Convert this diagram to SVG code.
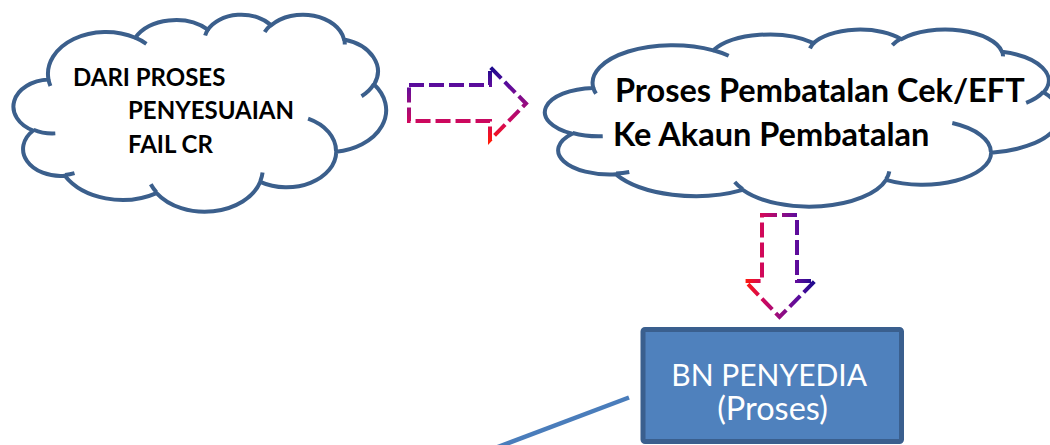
<svg xmlns="http://www.w3.org/2000/svg" xmlns:xlink="http://www.w3.org/1999/xlink" width="1050" height="445" viewBox="0 0 1050 445">
  <style>
    .cloud-outline { fill: #ffffff; stroke: #3b5f8c; stroke-width: 4; stroke-linejoin: round; }
    .cloud-hook { fill: none; stroke: #3b5f8c; stroke-width: 4; stroke-linecap: butt; }
    .cloud-text { font-family: Lato, "Liberation Sans", sans-serif; font-weight: bold; fill: #000000; }
    .box-text { font-family: Lato, "Liberation Sans", sans-serif; fill: #ffffff; text-anchor: middle; }
    .dash-arrow { fill: none; stroke-width: 4; stroke-dasharray: 15 5; stroke-linejoin: miter; }
  </style>
  <defs>
    <g id="cloud-shape">
      <path class="cloud-outline" vector-effect="non-scaling-stroke" d="M3900 14370 A6753 9190 0 0 1 14005 5202 A5333 7267 0 0 1 22456 3433 A4365 5945 0 0 1 29834 2481 A4857 6595 0 0 1 38319 5576 A5333 7273 0 0 1 41820 15460 A6775 9220 0 0 1 37405 30201 A5785 7867 0 0 1 28558 36812 A6752 9215 0 0 1 16482 39265 A7720 10543 0 0 1 5807 35471 A4360 5918 0 0 1 2116 25549 A4345 5945 0 0 1 3900 14370 Z"/>
      <path class="cloud-hook" vector-effect="non-scaling-stroke" d="M4693 26177 A4345 5945 0 0 1 2160 25380 M6928 34899 A4360 5918 0 0 1 5820 35280 M16478 39090 A6752 9215 0 0 1 15810 37349 M28827 34751 A6752 9215 0 0 1 28561 36659 M34129 22954 A5785 7867 0 0 1 37381 30090 M41798 15354 A5333 7273 0 0 1 40350 18030 M38324 5426 A4857 6595 0 0 1 38400 6690 M29078 3952 A4857 6595 0 0 1 29820 2340 M22141 4720 A4365 5945 0 0 1 22500 3331 M14000 5192 A6753 9190 0 0 1 15299 6538 M4127 15789 A6753 9190 0 0 1 3900 14371"/>
    </g>
    <linearGradient id="grad-right" gradientUnits="userSpaceOnUse" x1="0" y1="67" x2="0" y2="141">
      <stop offset="0" stop-color="#1a0a8c"/>
      <stop offset="0.25" stop-color="#5c0c9c"/>
      <stop offset="0.5" stop-color="#960c80"/>
      <stop offset="0.75" stop-color="#d0085c"/>
      <stop offset="1" stop-color="#ff1a0a"/>
    </linearGradient>
    <linearGradient id="grad-down" gradientUnits="userSpaceOnUse" x1="815" y1="0" x2="745" y2="0">
      <stop offset="0" stop-color="#1a0a8c"/>
      <stop offset="0.25" stop-color="#5c0c9c"/>
      <stop offset="0.5" stop-color="#960c80"/>
      <stop offset="0.75" stop-color="#d0085c"/>
      <stop offset="1" stop-color="#ff1a0a"/>
    </linearGradient>
  </defs>

  <g id="connectors">
    <path id="arrow-right" class="dash-arrow" stroke="url(#grad-right)" d="M409 85 L490 85 L490 67 L526 103.5 L490 140 L490 121 L409 121 Z"/>
    <path id="arrow-down" class="dash-arrow" stroke="url(#grad-down)" d="M762 215 L797 215 L797 281 L815 281 L779.5 317 L745 281 L762 281 Z"/>
    <line id="line-box" x1="629" y1="397.5" x2="490" y2="450" stroke="#4a7dbb" stroke-width="4.5"/>
  </g>

  <g id="node-cloud-left">
    <use xlink:href="#cloud-shape" href="#cloud-shape" transform="translate(15 14) scale(0.008588 0.0045602)"/>
    <text class="cloud-text" font-size="24">
      <tspan x="73" y="86">DARI PROSES</tspan>
      <tspan x="128" y="118.5">PENYESUAIAN</tspan>
      <tspan x="128" y="152.5">FAIL CR</tspan>
    </text>
  </g>

  <g id="node-cloud-right">
    <use xlink:href="#cloud-shape" href="#cloud-shape" transform="translate(547 29) scale(0.011875 0.0040972)"/>
    <text class="cloud-text" font-size="32.5">
      <tspan x="615" y="101.5">Proses Pembatalan Cek/EFT</tspan>
      <tspan x="613" y="146">Ke Akaun Pembatalan</tspan>
    </text>
  </g>

  <g id="node-box">
    <rect x="643" y="329.5" width="258.5" height="112" rx="2" fill="#4f81bd" stroke="#3a5f8e" stroke-width="5"/>
    <text class="box-text" font-size="30">
      <tspan x="772.5" y="385.5">BN PENYEDIA</tspan>
      <tspan x="772.5" y="420" font-size="32.5">(Proses)</tspan>
    </text>
  </g>
</svg>
